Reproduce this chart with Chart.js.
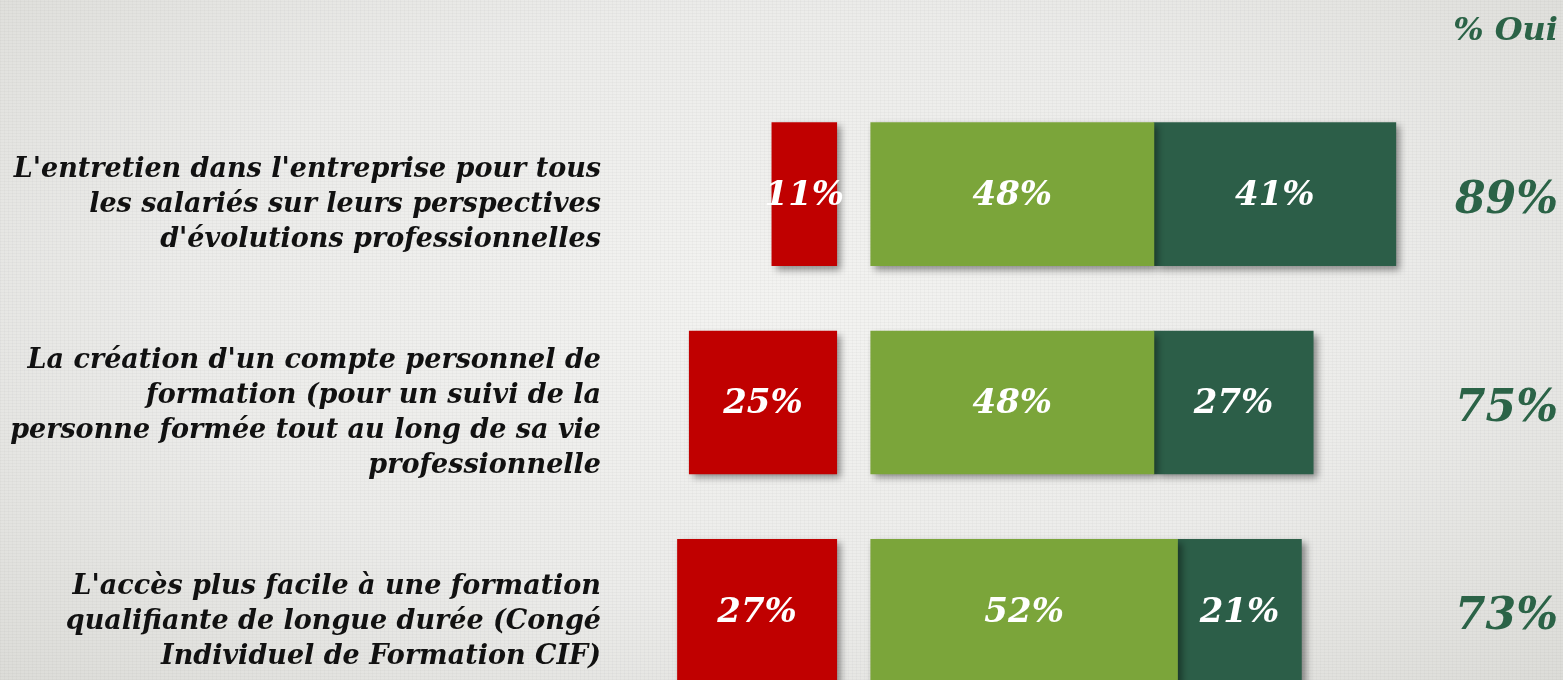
<!DOCTYPE html>
<html>
<head>
<meta charset="utf-8">
<script src="https://cdn.jsdelivr.net/npm/chart.js@4/dist/chart.umd.min.js"></script>
<style>
  html, body { margin: 0; padding: 0; overflow: hidden; width: 1563px; height: 680px; }
  body {
    background-color: #e8e8e5;
    background-image:
      repeating-linear-gradient(0deg, rgba(0,0,0,0.025) 0px, rgba(0,0,0,0.025) 1px, transparent 1px, transparent 3px),
      repeating-linear-gradient(90deg, rgba(0,0,0,0.02) 0px, rgba(0,0,0,0.02) 1px, transparent 1px, transparent 4px),
      radial-gradient(ellipse at 50% 45%, #f3f3f1 0%, #ececea 55%, #dcdcd8 100%);
  }
  #wrap { position: absolute; left: 0; top: 0; width: 1563px; height: 720px; }
</style>
</head>
<body>
<div id="wrap"><canvas id="c"></canvas></div>
<script>
// ---- data ----
const categories = [
  ["L'entretien dans l'entreprise pour tous", "les salariés sur leurs perspectives", "d'évolutions professionnelles"],
  ["La création d'un compte personnel de", "formation (pour un suivi de la", "personne formée tout au long de sa vie", "professionnelle"],
  ["L'accès plus facile à une formation", "qualifiante de longue durée (Congé", "Individuel de Formation CIF)"]
];
const nonValues = [11, 25, 27];          // red
const plutotOuiValues = [48, 48, 52];    // light green
const toutAFaitOuiValues = [41, 27, 21]; // dark green
const totalOuiValues = [89, 75, 73];
const totalOuiLabels = totalOuiValues.map(v => v + '%');
const headerLabel = '% Oui';

// ---- layout / style constants ----
const GAP = 5.76; // gap between negative and positive blocks, in axis units
const SERIF = "'DejaVu Serif', 'Liberation Serif', serif";
const RED = '#C00000', LIGHT = '#7BA53A', DARK = '#2C5E48', TOTAL = '#2B6347';

const redData = nonValues.map(v => [-(GAP + v), -GAP]);
const lightData = plutotOuiValues.map(v => [0, v]);
const darkData = plutotOuiValues.map((v, i) => [v, v + toutAFaitOuiValues[i]]);
const labelSets = [nonValues, plutotOuiValues, toutAFaitOuiValues];

const barPlugin = {
  id: 'barDeco',
  beforeDatasetsDraw(chart) {
    const ctx = chart.ctx;
    ctx.save();
    ctx.shadowColor = 'rgba(0,0,0,0.42)';
    ctx.shadowBlur = 7;
    ctx.shadowOffsetX = 4;
    ctx.shadowOffsetY = 4;
  },
  afterDatasetsDraw(chart) {
    const ctx = chart.ctx;
    ctx.restore();
    ctx.save();
    ctx.fillStyle = '#ffffff';
    ctx.textAlign = 'center';
    ctx.textBaseline = 'middle';
    ctx.font = "italic bold 34px " + SERIF;
    chart.data.datasets.forEach((ds, di) => {
      const meta = chart.getDatasetMeta(di);
      meta.data.forEach((el, i) => {
        const cx = (el.x + el.base) / 2;
        ctx.fillText(labelSets[di][i] + '%', cx, el.y + 2);
      });
    });
    ctx.restore();
  }
};

function noPad(s) { s.paddingTop = 0; s.paddingBottom = 0; }

new Chart(document.getElementById('c'), {
  type: 'bar',
  data: {
    labels: categories,
    datasets: [
      { label: 'Non', data: redData, backgroundColor: RED, grouped: false, barThickness: 143 },
      { label: 'Oui, plutôt', data: lightData, backgroundColor: LIGHT, grouped: false, barThickness: 143 },
      { label: 'Oui, tout à fait', data: darkData, backgroundColor: DARK, grouped: false, barThickness: 143 }
    ]
  },
  options: {
    indexAxis: 'y',
    responsive: true,
    maintainAspectRatio: false,
    animation: false,
    layout: { padding: { left: 0, right: 5, top: 0, bottom: 5 } },
    plugins: {
      legend: { display: false },
      tooltip: { enabled: false },
      title: {
        display: true,
        text: headerLabel,
        align: 'end',
        color: TOTAL,
        font: { family: SERIF, size: 32, style: 'italic', weight: 'bold', lineHeight: 1.2 },
        padding: { top: 12, bottom: 39.6 }
      }
    },
    scales: {
      x: {
        type: 'linear',
        display: false,
        min: -42.5,
        max: 93.1
      },
      y: {
        type: 'category',
        position: 'left',
        offset: true,
        grid: { display: false, drawTicks: false },
        border: { display: false },
        ticks: {
          color: '#111111',
          padding: 19,
          labelOffset: 11,
          font: { family: SERIF, size: 27, style: 'italic', weight: 'bold', lineHeight: 1.296 }
        },
        afterFit(s) { s.width = 620; noPad(s); }
      },
      y2: {
        type: 'category',
        position: 'right',
        labels: totalOuiLabels,
        offset: true,
        grid: { display: false, drawTicks: false },
        border: { display: false },
        ticks: {
          color: TOTAL,
          crossAlign: 'far',
          padding: 0,
          labelOffset: 7,
          font: { family: SERIF, size: 44, style: 'italic', weight: 'bold' }
        },
        afterFit(s) { s.width = 138; noPad(s); }
      }
    }
  },
  plugins: [barPlugin]
});
</script>
</body>
</html>
